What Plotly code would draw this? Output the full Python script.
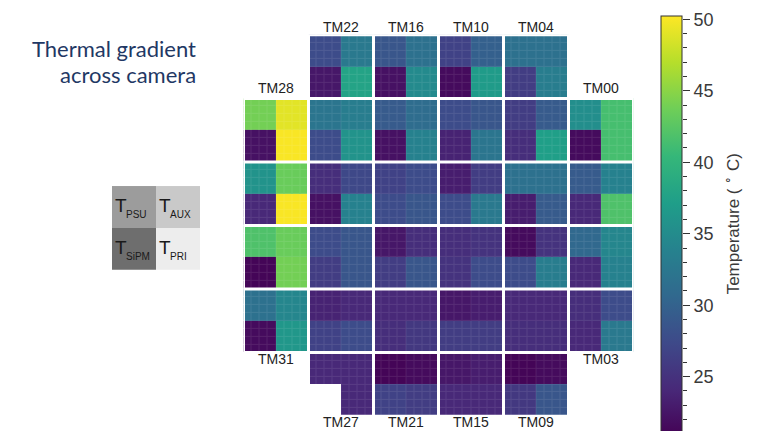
import numpy as np
import plotly.graph_objects as go

# Camera layout: module numbers per column (left to right), rows top to bottom
camera_columns = [
    [None, 28, 29, 30, 31, None],
    [22, 23, 24, 25, 26, 27],
    [16, 17, 18, 19, 20, 21],
    [10, 11, 12, 13, 14, 15],
    [4, 5, 6, 7, 8, 9],
    [None, 0, 1, 2, 3, None],
]

# Sensor temperatures (deg C) for modules TM00 .. TM31
t_psu = [35.5, 29.5, 31.0, 25.0, 32.0, 26.5, 32.0, 22.0, 24.5, 21.5,
         27.0, 28.0, 23.5, 25.0, 23.0, 23.0, 29.0, 29.5, 27.0, 23.0,
         24.5, 21.5, 28.0, 32.5, 25.0, 28.0, 24.0, 24.5, 44.0, 36.0,
         42.0, 32.0]
t_aux = [41.5, 34.0, 34.5, 28.0, 32.0, 29.5, 32.0, 25.5, 24.5, 22.0,
         30.0, 29.0, 26.5, 25.5, 23.5, 23.5, 32.0, 31.5, 28.0, 25.0,
         24.5, 22.0, 33.0, 33.5, 27.5, 29.0, 24.5, 24.5, 49.0, 43.5,
         43.5, 34.5]
t_sipm = [22.0, 24.5, 24.5, 24.5, 26.5, 25.0, 23.5, 28.0, 25.0, 26.0,
          22.0, 24.0, 28.0, 25.5, 26.5, 24.5, 22.5, 22.5, 28.0, 26.5,
          25.0, 27.0, 23.0, 28.0, 22.5, 26.5, 27.0, None, 22.5, 24.5,
          21.5, 22.0]
t_pri = [41.5, 42.0, 34.0, 33.0, 33.5, 37.5, 29.5, 33.5, 25.0, 29.0,
         37.0, 32.5, 33.0, 28.0, 26.5, 24.5, 35.0, 34.0, 29.0, 29.0,
         26.0, 26.5, 38.0, 36.0, 34.0, 29.0, 28.0, 24.5, 50.0, 50.0,
         44.0, 36.5]

module_labels_top = [22, 16, 10, 4, 28, 0]
module_labels_bottom = [31, 3, 27, 21, 15, 9]

# Sensor key
key_names = [["PSU", "AUX"], ["SiPM", "PRI"]]
key_shade = [[0.61, 0.79], [0.43, 0.93]]

T_MIN, T_MAX = 21.2, 50.2
NPIX = 8            # pixels per module side
NQ = NPIX // 2      # pixels per sensor quadrant
NMOD = len(camera_columns)
N = NMOD * NPIX

# Fill the camera pixel image
z = np.full((N, N), np.nan)
pos = {}
for c, col in enumerate(camera_columns):
    for r, m in enumerate(col):
        if m is None:
            continue
        pos[m] = (r, c)
        quads = [[t_psu[m], t_aux[m]], [t_sipm[m], t_pri[m]]]
        for qi in range(2):
            for qj in range(2):
                v = quads[qi][qj]
                if v is None:
                    continue
                r0 = r * NPIX + qi * NQ
                c0 = c * NPIX + qj * NQ
                z[r0:r0 + NQ, c0:c0 + NQ] = v

xc = np.arange(N) + 0.5
yc = np.arange(N) + 0.5

fig = go.Figure()

# Slightly faded underlay: shows through the pixel gaps as faint grid lines
fig.add_trace(go.Heatmap(
    z=z, x=xc, y=yc, colorscale="Viridis", zmin=T_MIN, zmax=T_MAX,
    opacity=0.9, showscale=False, hoverinfo="skip"))

fig.add_trace(go.Heatmap(
    z=z, x=xc, y=yc, colorscale="Viridis", zmin=T_MIN, zmax=T_MAX,
    xgap=1, ygap=1,
    colorbar=dict(
        x=661 / 766, xanchor="left", xpad=0,
        y=1 - 9.6 / 431, yanchor="top", ypad=0,
        lenmode="pixels", len=421.4,
        thicknessmode="pixels", thickness=21,
        outlinewidth=1, outlinecolor="#333333",
        ticks="", showticklabels=False),
    hovertemplate="%{z:.1f} °C<extra></extra>"))

# Sensor key (grey 2x2 block)
fig.add_trace(go.Heatmap(
    z=key_shade, x=[0, 1], y=[0, 1], xaxis="x2", yaxis="y2",
    colorscale=[[0, "#000000"], [1, "#ffffff"]], zmin=0, zmax=1,
    showscale=False, hoverinfo="skip"))

# Invisible trace that instantiates the colour-bar tick axis
fig.add_trace(go.Scatter(
    x=[0.5, 0.5], y=[T_MIN, T_MAX], xaxis="x3", yaxis="y3",
    mode="markers", marker=dict(opacity=0), hoverinfo="skip"))

shapes = []
for k in range(NMOD + 1):
    b = k * NPIX
    shapes.append(dict(type="line", xref="x", yref="y", x0=b, x1=b, y0=0, y1=N,
                       line=dict(color="white", width=3)))
    shapes.append(dict(type="line", xref="x", yref="y", x0=0, x1=N, y0=b, y1=b,
                       line=dict(color="white", width=3)))

annotations = []
label_font = dict(family="Liberation Sans, Arial, sans-serif", size=14, color="#222222")
for m in module_labels_top:
    r, c = pos[m]
    annotations.append(dict(x=c * NPIX + NPIX / 2, y=r * NPIX, xref="x", yref="y",
                            text=f"TM{m:02d}", showarrow=False, font=label_font,
                            xanchor="center", yanchor="middle",
                            yshift=8 if r == 0 else 10))
for m in module_labels_bottom:
    r, c = pos[m]
    annotations.append(dict(x=c * NPIX + NPIX / 2, y=(r + 1) * NPIX, xref="x", yref="y",
                            text=f"TM{m:02d}", showarrow=False, font=label_font,
                            xanchor="center", yanchor="middle", yshift=-6))

# Key labels: "T" with a small subscript
key_font_big = dict(family="Liberation Sans, Arial, sans-serif", size=19, color="#1a1a1a")
key_font_small = dict(family="Liberation Sans, Arial, sans-serif", size=10, color="#1a1a1a")
for qi in range(2):
    for qj in range(2):
        annotations.append(dict(x=qj - 0.5, y=qi, xref="x2", yref="y2", text="T",
                                showarrow=False, font=key_font_big,
                                xanchor="left", yanchor="middle", xshift=1, yshift=1))
        annotations.append(dict(x=qj - 0.5, y=qi, xref="x2", yref="y2",
                                text=key_names[qi][qj], showarrow=False,
                                font=key_font_small,
                                xanchor="left", yanchor="middle", xshift=12, yshift=-8))

title_font = dict(family="Lato, Carlito, sans-serif", size=22, color="#1F3864")
annotations.append(dict(x=198 / 766, y=1 - 42 / 431, xref="paper", yref="paper",
                        text="Thermal gradient", showarrow=False, font=title_font,
                        xanchor="right", yanchor="middle"))
annotations.append(dict(x=198 / 766, y=1 - 69 / 431, xref="paper", yref="paper",
                        text="across camera", showarrow=False, font=title_font,
                        xanchor="right", yanchor="middle"))

fig.update_layout(
    width=766, height=431,
    margin=dict(l=0, r=0, t=0, b=0),
    paper_bgcolor="white", plot_bgcolor="white",
    font=dict(family="Liberation Sans, Arial, sans-serif", color="#333333"),
    showlegend=False,
    shapes=shapes,
    annotations=annotations,
    xaxis=dict(domain=[243.5 / 766, 633.5 / 766], range=[0, N], visible=False,
               anchor="y"),
    yaxis=dict(domain=[1 - 415.9 / 431, 1 - 28.3 / 431], range=[N, 0], visible=False,
               anchor="x"),
    xaxis2=dict(domain=[112 / 766, 200 / 766], range=[-0.5, 1.5], visible=False,
                anchor="y2"),
    yaxis2=dict(domain=[1 - 267 / 431, 1 - 182 / 431], range=[1.5, -0.5], visible=False,
                anchor="x2"),
    # Axis carrying the colour-bar ticks, labels and title
    xaxis3=dict(domain=[661 / 766, 682 / 766], range=[0, 1], visible=False,
                anchor="y3"),
    yaxis3=dict(domain=[0, 1 - 9.6 / 431], range=[T_MIN, T_MAX], anchor="x3",
                side="right", showgrid=False, zeroline=False, showline=False,
                tick0=0, dtick=5, ticks="outside", ticklen=7, tickwidth=1,
                tickcolor="#333333",
                minor=dict(ticks="outside", ticklen=4, tick0=0, dtick=1,
                           tickcolor="#333333", showgrid=False),
                tickfont=dict(family="Liberation Sans, Arial, sans-serif",
                              size=18, color="#3a3a3a"),
                title=dict(text="Temperature ( <sup>∘</sup> C)",
                           font=dict(family="Liberation Sans, Arial, sans-serif",
                                     size=17, color="#3a3a3a"), standoff=14)),
)

fig.write_html("out.html")
